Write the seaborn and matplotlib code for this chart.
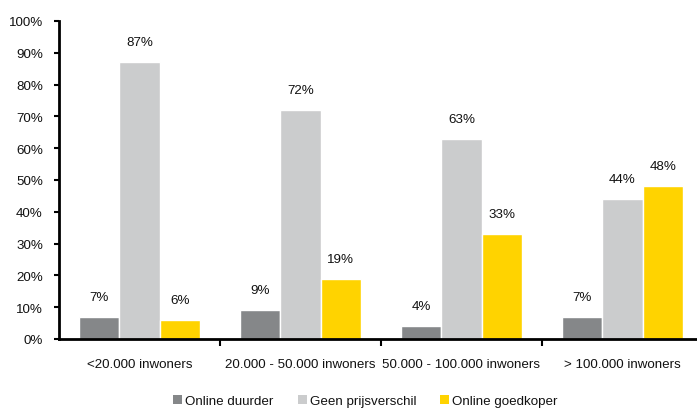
import matplotlib
matplotlib.use("Agg")
import matplotlib.pyplot as plt
import seaborn as sns
import pandas as pd
from matplotlib.patches import Patch

categories = ["<20.000 inwoners", "20.000 - 50.000 inwoners",
              "50.000 - 100.000 inwoners", "> 100.000 inwoners"]
series = ["Online duurder", "Geen prijsverschil", "Online goedkoper"]
online_duurder = [7, 9, 4, 7]
geen_prijsverschil = [87, 72, 63, 44]
online_goedkoper = [6, 19, 33, 48]
colors = ["#858789", "#cbcccd", "#ffd300"]

rows = []
for name, vals in zip(series, [online_duurder, geen_prijsverschil, online_goedkoper]):
    for cat, v in zip(categories, vals):
        rows.append({"categorie": cat, "reeks": name, "waarde": v})
df = pd.DataFrame(rows)

sns.set_style("white")
plt.rcParams["font.family"] = ["Liberation Sans", "DejaVu Sans"]
FS = 9.6
TXT = "#111111"

fig = plt.figure(figsize=(6.97, 4.10), dpi=100)
ax = fig.add_axes([59 / 697, 1 - 340 / 410, 644 / 697, 318 / 410])

sns.barplot(data=df, x="categorie", y="waarde", hue="reeks",
            order=categories, hue_order=series, palette=colors,
            width=0.75, saturation=1, errorbar=None, legend=False, ax=ax)

for container in ax.containers:
    for bar in container:
        h = bar.get_height()
        ax.annotate(f"{h:.0f}%", (bar.get_x() + bar.get_width() / 2, h),
                    xytext=(0, 20), textcoords="offset pixels",
                    ha="center", va="center", fontsize=FS, color=TXT)

ax.set_ylim(0, 100)
ax.set_xlim(-0.5, 3.5)
ax.set_yticks(range(0, 101, 10))
ax.set_yticklabels([f"{v}%" for v in range(0, 101, 10)])
ax.set_xlabel("")
ax.set_ylabel("")
ax.tick_params(axis="y", direction="out", length=3.6, width=1.5, color="black",
               labelsize=FS, labelcolor=TXT, pad=8, left=True)
ax.tick_params(axis="x", which="major", length=0, labelsize=FS, labelcolor=TXT, pad=14)
ax.set_xticks([0.5, 1.5, 2.5], minor=True)
ax.tick_params(axis="x", which="minor", direction="out", length=5, width=1.5,
               color="black", bottom=True)

for side in ["top", "right"]:
    ax.spines[side].set_visible(False)
for side in ["left", "bottom"]:
    ax.spines[side].set_color("black")
    ax.spines[side].set_linewidth(2)

handles = [Patch(facecolor=c, edgecolor="none") for c in colors]
fig.legend(handles, series, loc="center", bbox_to_anchor=(365.5 / 697, 1 - 402 / 410),
           ncol=3, frameon=False, fontsize=FS, labelcolor=TXT,
           handlelength=0.68, handleheight=0.68,
           handletextpad=0.23, columnspacing=1.8, borderpad=0, borderaxespad=0)

fig.savefig("out.png", dpi=100)
